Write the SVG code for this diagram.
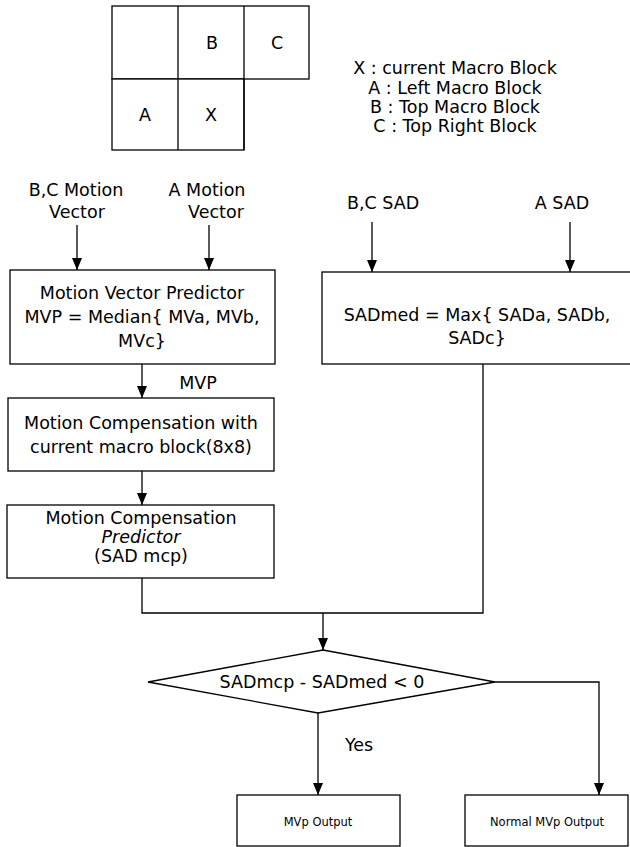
<svg xmlns="http://www.w3.org/2000/svg" width="630" height="847" viewBox="0 0 630 847">
<style>
.bx{fill:#fff;stroke:#000;stroke-width:1.3}
.ln{fill:none;stroke:#000;stroke-width:1.3}
text{font-family:"DejaVu Sans","Liberation Sans",sans-serif;font-size:17.5px;fill:#000;text-anchor:middle;dominant-baseline:central}
.sm{font-size:11.5px}
</style>
<defs>
<marker id="ah" viewBox="0 0 12 10" refX="12" refY="5" markerWidth="12" markerHeight="10" markerUnits="userSpaceOnUse" orient="auto">
<path d="M0,0 L12,5 L0,10 Z" fill="#000"/>
</marker>
</defs>
<rect width="630" height="847" fill="#fff"/>
<g id="grid">
<rect class="bx" x="112" y="6" width="197" height="73"/>
<rect class="bx" x="112" y="79" width="132" height="71"/>
<line class="ln" x1="178" y1="6" x2="178" y2="150"/>
<line class="ln" x1="244" y1="6" x2="244" y2="150"/>
<text x="212" y="43">B</text>
<text x="277" y="43">C</text>
<text x="145" y="115">A</text>
<text x="211" y="115">X</text>
</g>
<g id="legend">
<text x="455" y="68">X : current Macro Block</text>
<text x="455" y="88">A : Left Macro Block</text>
<text x="455" y="107">B : Top Macro Block</text>
<text x="455" y="126">C : Top Right Block</text>
</g>
<g id="in-bc-mv"><text x="76" y="190">B,C Motion</text><text x="77" y="212">Vector</text></g>
<g id="in-a-mv"><text x="207" y="190">A Motion</text><text x="216" y="212">Vector</text></g>
<g id="in-bc-sad"><text x="383" y="203">B,C SAD</text></g>
<g id="in-a-sad"><text x="562" y="203">A SAD</text></g>
<g id="mvp-box">
<rect class="bx" x="10" y="270" width="265" height="94"/>
<text x="142" y="293">Motion Vector Predictor</text>
<text x="142" y="317">MVP = Median{ MVa, MVb,</text>
<text x="142" y="341">MVc}</text>
</g>
<g id="mc-box">
<rect class="bx" x="8" y="398" width="266" height="73"/>
<text x="141" y="423">Motion Compensation with</text>
<text x="141" y="447">current macro block(8x8)</text>
</g>
<g id="mcp-box">
<rect class="bx" x="7" y="505" width="267" height="73"/>
<text x="141" y="518">Motion Compensation</text>
<text x="141" y="537" font-style="italic">Predictor</text>
<text x="141" y="556">(SAD mcp)</text>
</g>
<g id="sad-box">
<rect class="bx" x="322" y="272" width="320" height="92"/>
<text x="477" y="315">SADmed = Max{ SADa, SADb,</text>
<text x="477" y="338">SADc}</text>
</g>
<g id="decision">
<polygon class="bx" points="323,650 495,682 318,713 148,682"/>
<text x="322" y="682">SADmcp - SADmed &lt; 0</text>
</g>
<g id="out-mvp">
<rect class="bx" x="237" y="795" width="163" height="51"/>
<text class="sm" x="318" y="822">MVp Output</text>
</g>
<g id="out-normal">
<rect class="bx" x="465" y="795" width="163" height="51"/>
<text class="sm" x="547" y="822">Normal MVp Output</text>
</g>
<g id="connectors">
<line class="ln" x1="77" y1="225" x2="77" y2="270" marker-end="url(#ah)"/>
<line class="ln" x1="209" y1="225" x2="209" y2="270" marker-end="url(#ah)"/>
<line class="ln" x1="372" y1="222" x2="372" y2="272" marker-end="url(#ah)"/>
<line class="ln" x1="570" y1="222" x2="570" y2="272" marker-end="url(#ah)"/>
<line class="ln" x1="142" y1="364" x2="142" y2="398" marker-end="url(#ah)"/>
<text x="198" y="383">MVP</text>
<line class="ln" x1="142" y1="471" x2="142" y2="505" marker-end="url(#ah)"/>
<polyline class="ln" points="142,578 142,613 483,613 483,364"/>
<line class="ln" x1="323" y1="613" x2="323" y2="650" marker-end="url(#ah)"/>
<line class="ln" x1="318" y1="713" x2="318" y2="795" marker-end="url(#ah)"/>
<text x="359" y="745">Yes</text>
<polyline class="ln" points="495,682 599,682 599,795" marker-end="url(#ah)"/>
</g>
</svg>
